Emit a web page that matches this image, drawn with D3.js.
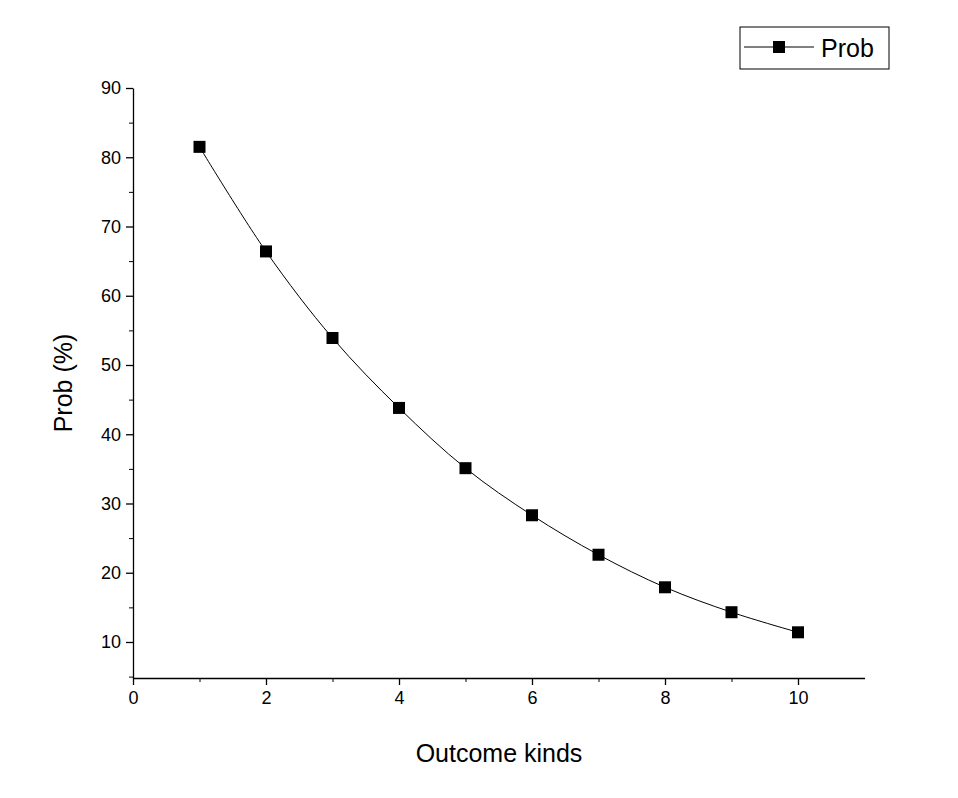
<!DOCTYPE html>
<html><head><meta charset="utf-8">
<script src="https://cdn.jsdelivr.net/npm/d3@7"></script>
<style>body{margin:0;background:#fff}text{font-family:"Liberation Sans",Arial,sans-serif}</style>
</head><body><svg width="958" height="798"></svg>
<script>
// data
var kinds = [1, 2, 3, 4, 5, 6, 7, 8, 9, 10];
var prob = [81.5, 66.4, 53.9, 43.8, 35.1, 28.3, 22.6, 17.9, 14.3, 11.4];
var xTicks = [0, 2, 4, 6, 8, 10];
var yTicks = [10, 20, 30, 40, 50, 60, 70, 80, 90];

var svg = d3.select("svg");
var x = d3.scaleLinear().domain([0, 11]).range([133, 864.5]);
var y = d3.scaleLinear().domain([4.8, 90]).range([678, 88]);

// minor ticks
svg.append("g").attr("transform", "translate(0,678)")
  .call(d3.axisBottom(x).tickValues(d3.range(1, 11, 2)).tickSize(4).tickFormat(""))
  .select(".domain").remove();
svg.append("g").attr("transform", "translate(133,0)")
  .call(d3.axisLeft(y).tickValues(d3.range(5, 90, 10)).tickSize(4).tickFormat(""))
  .select(".domain").remove();

var xa = svg.append("g").attr("transform", "translate(0,678)")
  .call(d3.axisBottom(x).tickValues(xTicks).tickSize(7).tickSizeOuter(0).tickPadding(6));
var ya = svg.append("g").attr("transform", "translate(133,0)")
  .call(d3.axisLeft(y).tickValues(yTicks).tickSize(7).tickSizeOuter(0).tickPadding(5));
[xa, ya].forEach(function(a){
  a.selectAll("text").style("font-size", "18px").attr("fill", "#000");
  a.selectAll("line,path").attr("stroke", "#000").attr("stroke-width", 1.3);
});

svg.append("text").attr("x", 499).attr("y", 762).attr("text-anchor", "middle")
  .style("font-size", "25px").text("Outcome kinds");
svg.append("text").attr("transform", "translate(72,383) rotate(-90)").attr("text-anchor", "middle")
  .style("font-size", "25px").text("Prob (%)");

var line = d3.line().x(function(d, i){ return x(kinds[i]); }).y(function(d){ return y(d); })
  .curve(d3.curveCatmullRom);
svg.append("path").datum(prob).attr("d", line).attr("fill", "none").attr("stroke", "#000").attr("stroke-width", 1);

svg.selectAll("rect.pt").data(prob).enter().append("rect").attr("class", "pt")
  .attr("x", function(d, i){ return x(kinds[i]) - 6; }).attr("y", function(d){ return y(d) - 6; })
  .attr("width", 12).attr("height", 12).attr("fill", "#000");

// legend
var lg = svg.append("g");
lg.append("rect").attr("x", 740).attr("y", 27).attr("width", 149).attr("height", 42)
  .attr("fill", "#fff").attr("stroke", "#000").attr("stroke-width", 1);
lg.append("line").attr("x1", 744).attr("x2", 814).attr("y1", 47).attr("y2", 47).attr("stroke", "#000");
lg.append("rect").attr("x", 773).attr("y", 41).attr("width", 12).attr("height", 12).attr("fill", "#000");
lg.append("text").attr("x", 821).attr("y", 57).style("font-size", "25px").text("Prob");
</script></body></html>
